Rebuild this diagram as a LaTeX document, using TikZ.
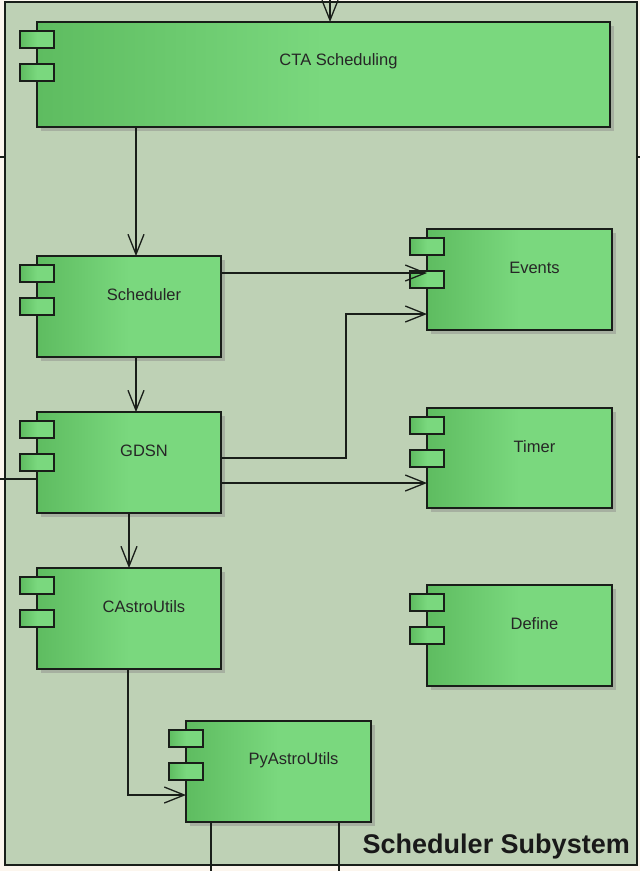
\documentclass[tikz,border=0pt]{standalone}
\usepackage{fontspec}
\setmainfont{Liberation Sans}
\usetikzlibrary{arrows.meta,calc}
\definecolor{bgcream}{RGB}{252,246,238}
\definecolor{pkgfill}{RGB}{190,209,181}
\definecolor{boxdark}{RGB}{94,188,96}
\definecolor{boxlight}{RGB}{122,216,126}
\definecolor{shadowc}{RGB}{166,176,160}
\definecolor{edgec}{RGB}{25,30,25}
\pgfdeclarehorizontalshading{compshade}{100bp}{color(0bp)=(boxdark); color(25bp)=(boxdark); color(50bp)=(boxlight); color(100bp)=(boxlight)}
\tikzset{
  comp/.style={draw=edgec, line width=1.3pt, shade, shading=compshade, inner sep=0pt, outer sep=0pt, anchor=north west},
  port/.style={draw=edgec, line width=1.3pt, shade, shading=compshade, minimum width=34pt, minimum height=17pt, inner sep=0pt, outer sep=0pt, anchor=north west},
  lbl/.style={font=\fontsize{16.5}{19}\selectfont, text=black!85, inner sep=0pt},
  wire/.style={draw=edgec, line width=1.3pt},
  conn/.style={wire, -{Straight Barb[length=20pt,width=16pt,line width=1.3pt]}}
}
\newcommand\compbox[6]{%
  \fill[shadowc] (#2+4,#3+4) rectangle ++(#4,#5);
  \node[comp, minimum width=#4pt, minimum height=#5pt] (#1) at (#2,#3) {};
  \node[port] (#1p1) at (#2-17,#3+9) {};
  \node[port] (#1p2) at (#2-17,#3+42) {};
  \node[lbl] (#1t) at (#2+#4/2+15,#3+39) {#6};
}
\begin{document}
\begin{tikzpicture}[x=1pt,y=-1pt]
\useasboundingbox (0,0) rectangle (640,871);
\fill[bgcream] (0,0) rectangle (640,871);
\draw[wire] (0,157) -- (5,157);
\draw[wire] (637,157) -- (640,157);
\draw[wire, fill=pkgfill] (5,2) rectangle (637,865);

\compbox{cta}{37}{22}{573}{105}{CTA Scheduling}
\compbox{sched}{37}{256}{184}{101}{Scheduler}
\compbox{gdsn}{37}{412}{184}{101}{GDSN}
\compbox{castro}{37}{568}{184}{101}{CAstroUtils}
\compbox{events}{427}{229}{185}{101}{Events}
\compbox{timer}{427}{408}{185}{100}{Timer}
\compbox{define}{427}{585}{185}{101}{Define}
\compbox{py}{186}{721}{185}{101}{PyAstroUtils}

\node[font=\bfseries\fontsize{27}{30}\selectfont, text=black!90, anchor=base east, inner sep=0pt] (title) at (630,853) {Scheduler Subystem};

\coordinate (topin) at (330,0);
\coordinate (ax) at (136,0);
\coordinate (ax2) at (129,0);
\coordinate (ay1) at (0,273);
\coordinate (b1) at (346,458);
\coordinate (b2) at (346,314);
\coordinate (ay2) at (0,483);
\coordinate (lin) at (0,479);
\coordinate (d1) at (128,795);
\coordinate (e1) at (211,871);
\coordinate (e2) at (339,871);

\draw[conn] (topin) -- (topin |- cta.north);
\draw[conn] (ax |- cta.south) -- (ax |- sched.north);
\draw[conn] (ax |- sched.south) -- (ax |- gdsn.north);
\draw[conn] (ay1 -| sched.east) -- (ay1 -| events.west);
\draw[conn] (b1 -| gdsn.east) -- (b1) -- (b2) -- (b2 -| events.west);
\draw[conn] (ay2 -| gdsn.east) -- (ay2 -| timer.west);
\draw[wire] (lin) -- (lin -| gdsn.west);
\draw[conn] (ax2 |- gdsn.south) -- (ax2 |- castro.north);
\draw[conn] (d1 |- castro.south) -- (d1) -- (d1 -| py.west);
\draw[wire] (e1 |- py.south) -- (e1);
\draw[wire] (e2 |- py.south) -- (e2);
\end{tikzpicture}
\end{document}
